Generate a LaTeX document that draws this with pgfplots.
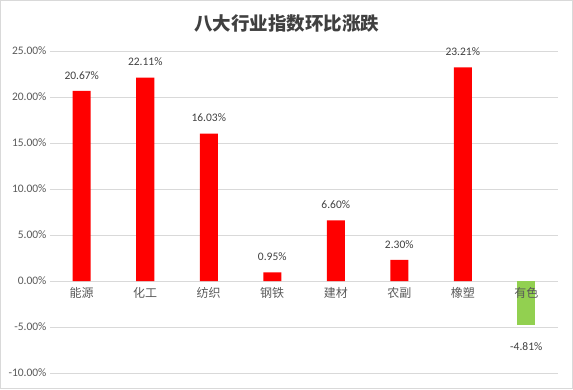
\documentclass[border=0pt]{standalone}
\usepackage{pgfplots}
\pgfplotsset{compat=1.18}
\usepackage{fontspec}
\setmainfont{Carlito}
\newfontfamily\cjk{Noto Sans CJK SC}
\definecolor{gridc}{HTML}{D9D9D9}
\definecolor{txt}{HTML}{595959}
\definecolor{ttl}{HTML}{404040}
\definecolor{barred}{HTML}{FF0000}
\definecolor{bargreen}{HTML}{92D050}
\begin{document}
\begin{tikzpicture}[x=1pt,y=1pt]
\draw[draw=gridc, line width=1pt] (0.5,0.5) rectangle (572.5,388.5);
\node[font=\cjk\bfseries\fontsize{18.5}{20}\selectfont, text=ttl] at (286.5,365) {八大行业指数环比涨跌};
\begin{axis}[
  at={(50pt,16pt)}, anchor=south west,
  scale only axis, width=508pt, height=322pt,
  xmin=-0.5, xmax=7.5, ymin=-10, ymax=25,
  axis x line*=middle, axis y line*=left,
  x axis line style={draw=gridc, line width=0.8pt, -},
  y axis line style={draw=none},
  xtick={0,...,7},
  xticklabels={能源,化工,纺织,钢铁,建材,农副,橡塑,{}},
  xticklabel style={font=\cjk\fontsize{12}{14}\selectfont, text=txt, yshift=-3pt},
  major tick length=0pt,
  ytick={-10,-5,...,25},
  yticklabel={\pgfmathprintnumber[fixed,fixed zerofill,precision=2]{\tick}\%},
  yticklabel style={font=\fontsize{11.5}{13}\selectfont, text=txt, /pgf/number format/assume math mode=true},
  ymajorgrids, grid style={draw=gridc, line width=0.8pt},
  ybar, bar width=18pt,
  nodes near coords={\pgfmathprintnumber[fixed,fixed zerofill,precision=2]{\pgfplotspointmeta}\%},
  nodes near coords style={font=\fontsize{11.5}{13}\selectfont, text=ttl, /pgf/number format/assume math mode=true},
  clip=false,
]
\addplot[fill=barred, draw=none, bar shift=0pt, nodes near coords style={anchor=south, yshift=8pt}]
  coordinates {(0,20.67) (1,22.11) (2,16.03) (3,0.95) (4,6.60) (5,2.30) (6,23.21)};
\addplot[fill=bargreen, draw=none, bar shift=0pt, nodes near coords style={anchor=north, yshift=-14pt}]
  coordinates {(7,-4.81)};
\node[anchor=north, yshift=-3pt, font=\cjk\fontsize{12}{14}\selectfont, text=txt] at (axis cs:7,0) {有色};
\end{axis}
\end{tikzpicture}
\end{document}
